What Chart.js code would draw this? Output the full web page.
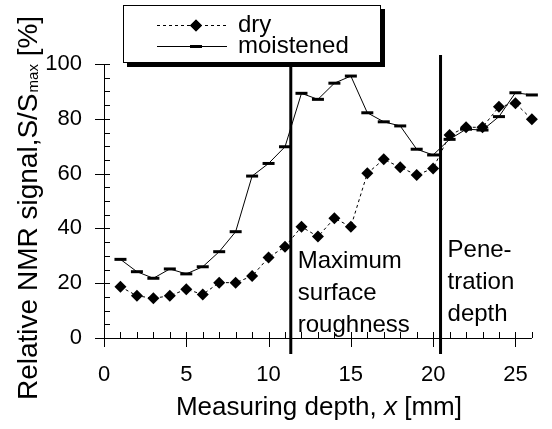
<!DOCTYPE html>
<html>
<head>
<meta charset="utf-8">
<script src="https://cdn.jsdelivr.net/npm/chart.js@4.4.1/dist/chart.umd.min.js"></script>
<style>
  body { margin: 0; background: #fff; }
  canvas { display: block; }
</style>
</head>
<body>
<canvas id="chart-nmr" width="552" height="429"></canvas>
<script>
const depth = [1,2,3,4,5,6,7,8,9,10,11,12,13,14,15,16,17,18,19,20,21,22,23,24,25,26]
const dry = [18.7,15.4,14.5,15.4,17.8,15.9,20.2,20.2,22.6,29.4,33.3,40.6,37.0,43.7,40.6,60.1,65.2,62.3,59.5,61.9,74.1,76.9,76.9,84.4,85.7,79.8]
const moistened = [28.7,24.2,21.8,25.2,23.4,26.0,31.5,38.8,59.1,63.7,69.8,89.3,87.1,93.0,95.6,82.2,78.9,77.4,68.9,66.8,72.5,76.2,75.9,80.8,89.5,88.7]
const xTicks = [0,5,10,15,20,25]
const yTicks = [0,20,40,60,80,100]
const markerDepths = [11.35, 20.45]
const markerNotes = [['Maximum','surface','roughness'], ['Pene-','tration','depth']]

const FONT = "'Liberation Sans', Arial, sans-serif"

const pts = vals => depth.map((d, i) => ({ x: d, y: vals[i] }))

// axes, tick marks, marker lines, notes, titles and the boxed legend
const decor = {
	id: 'decor',
	afterDatasetsDraw(chart) {
		const ctx = chart.ctx
		const xs = chart.scales.x, ys = chart.scales.y
		const x0 = xs.getPixelForValue(0), y0 = ys.getPixelForValue(0)
		ctx.save()
		ctx.strokeStyle = '#000'
		ctx.fillStyle = '#000'
		ctx.lineWidth = 1

		// axis lines
		ctx.beginPath()
		ctx.moveTo(x0 + 0.5, ys.getPixelForValue(100))
		ctx.lineTo(x0 + 0.5, y0)
		ctx.moveTo(x0, y0 + 0.5)
		ctx.lineTo(xs.right, y0 + 0.5)
		// x ticks
		for (let v = 0; v <= 26; v++) {
			const px = Math.round(xs.getPixelForValue(v)) + 0.5
			const major = xTicks.includes(v)
			ctx.moveTo(px, y0 - 6)
			ctx.lineTo(px, y0 + (major ? 9 : 0))
		}
		// y ticks
		for (let v = 0; v <= 100; v += 5) {
			const py = Math.round(ys.getPixelForValue(v)) + 0.5
			const major = yTicks.includes(v)
			ctx.moveTo(x0 - (major ? 9 : 0), py)
			ctx.lineTo(x0 + 6, py)
		}
		ctx.stroke()

		// marker lines + notes
		ctx.lineWidth = 3
		ctx.font = '24px ' + FONT
		ctx.textAlign = 'left'
		ctx.textBaseline = 'alphabetic'
		markerDepths.forEach((d, i) => {
			const px = xs.getPixelForValue(d)
			ctx.beginPath()
			ctx.moveTo(px, 55)
			ctx.lineTo(px, y0 + 16)
			ctx.stroke()
			const base = i === 0 ? 268 : 257
			markerNotes[i].forEach((t, j) => ctx.fillText(t, px + 7, base + j * 32))
		})

		// y title with subscript
		ctx.save()
		ctx.translate(37, 400)
		ctx.rotate(-Math.PI / 2)
		ctx.font = '28px ' + FONT
		const a = 'Relative NMR signal,S/S'
		ctx.fillText(a, 0, 0)
		let w = ctx.measureText(a).width
		ctx.font = '15px ' + FONT
		ctx.fillText('max', w + 1, 1)
		w += ctx.measureText('max').width + 1
		ctx.font = '28px ' + FONT
		ctx.fillText(' [%]', w, 0)
		ctx.restore()

		// x title with italic x
		ctx.font = '26px ' + FONT
		const p1 = 'Measuring depth, ', p2 = 'x', p3 = ' [mm]'
		const w1 = ctx.measureText(p1).width, w3 = ctx.measureText(p3).width
		ctx.font = 'italic 26px ' + FONT
		const w2 = ctx.measureText(p2).width
		let tx = (xs.left + xs.right) / 2 + 1 - (w1 + w2 + w3) / 2
		ctx.font = '26px ' + FONT
		ctx.fillText(p1, tx, 415)
		ctx.font = 'italic 26px ' + FONT
		ctx.fillText(p2, tx + w1, 415)
		ctx.font = '26px ' + FONT
		ctx.fillText(p3, tx + w1 + w2, 415)

		// legend box
		const L = 123, T = 5, W = 258, H = 58
		ctx.fillRect(L + 4, T + 4, W, H)
		ctx.fillStyle = '#fff'
		ctx.fillRect(L, T, W, H)
		ctx.lineWidth = 1
		ctx.strokeRect(L + 0.5, T + 0.5, W - 1, H - 1)
		ctx.fillStyle = '#000'
		ctx.font = '24px ' + FONT
		ctx.textBaseline = 'middle'
		chart.data.datasets.forEach((ds, i) => {
			const ly = i === 0 ? 25 : 46
			ctx.beginPath()
			ctx.setLineDash(ds.borderDash || [])
			ctx.lineWidth = 1
			ctx.moveTo(157, ly + 0.5)
			ctx.lineTo(227, ly + 0.5)
			ctx.stroke()
			ctx.setLineDash([])
			ctx.lineWidth = ds.pointBorderWidth
			Chart.helpers.drawPoint(ctx, {
				pointStyle: ds.pointStyle, radius: ds.pointRadius, borderWidth: ds.pointBorderWidth
			}, 196, ly + 0.5)
			if (ds.pointStyle !== 'line') ctx.fill()
			ctx.fillText(ds.label, 238, ly)
		})
		ctx.restore()
	}
}

new Chart(document.getElementById('chart-nmr'), {
	type: 'line',
	data: {
		datasets: [
			{
				label: 'dry',
				data: pts(dry),
				borderColor: '#000',
				borderWidth: 1,
				borderDash: [3, 3],
				pointStyle: 'rectRot',
				pointRadius: 6,
				pointBorderWidth: 0,
				pointBackgroundColor: '#000',
				pointBorderColor: '#000',
				tension: 0,
				clip: 10
			},
			{
				label: 'moistened',
				data: pts(moistened),
				borderColor: '#000',
				borderWidth: 1,
				pointStyle: 'line',
				pointRadius: 6,
				pointBorderWidth: 3,
				pointBorderColor: '#000',
				tension: 0,
				clip: 10
			}
		]
	},
	options: {
		responsive: false,
		animation: false,
		events: [],
		layout: { padding: { top: 64, right: 6, left: 0, bottom: 0 } },
		scales: {
			x: {
				type: 'linear',
				min: 0,
				max: 26,
				afterFit: s => { s.height = 91 },
				afterBuildTicks: s => { s.ticks = xTicks.map(v => ({ value: v })) },
				grid: { display: false, drawTicks: false },
				border: { display: false },
				ticks: { padding: 24, color: '#000', font: { family: FONT, size: 22 }, maxRotation: 0 }
			},
			y: {
				min: 0,
				max: 100,
				afterFit: s => { s.width = 104 },
				afterBuildTicks: s => { s.ticks = yTicks.map(v => ({ value: v })) },
				grid: { display: false, drawTicks: false },
				border: { display: false },
				ticks: { padding: 22, color: '#000', font: { family: FONT, size: 22 } }
			}
		},
		plugins: {
			legend: { display: false },
			tooltip: { enabled: false }
		}
	},
	plugins: [decor]
})
</script>
</body>
</html>
